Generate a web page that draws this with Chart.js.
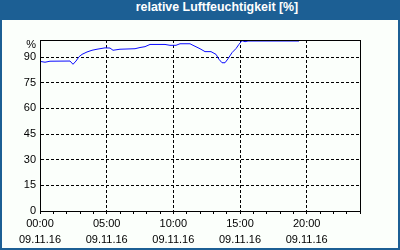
<!DOCTYPE html>
<html>
<head>
<meta charset="utf-8">
<script src="https://cdn.jsdelivr.net/npm/chart.js@4/dist/chart.umd.min.js"></script>
<style>
  html, body { margin: 0; padding: 0; background: #1c5f94; }
  #wrap { position: relative; width: 400px; height: 250px; background: #1c5f94; overflow: hidden; }
  #title { position: absolute; left: 0; top: 0; width: 400px; height: 20px; line-height: 20px;
           padding-left: 34px; box-sizing: border-box; text-align: center;
           font: bold 12.4px "Liberation Sans", Arial, sans-serif; color: #ffffff; }
  #box { position: absolute; left: 2px; top: 20px; width: 396px; height: 228px; background: #fbfffb; }
  canvas { display: block; }
</style>
</head>
<body>
<div id="wrap">
  <div id="title">relative Luftfeuchtigkeit [%]</div>
  <div id="box"><canvas id="c" width="396" height="228"></canvas></div>
</div>
<script>
// Hours since 00:00 on 09.11.16
const hours = [0, 0.375, 0.75, 2.25, 2.475, 2.7, 2.925, 3.15, 3.525, 3.9, 4.275, 4.875, 5.25, 5.475, 6.0, 7.125, 7.5, 7.875, 8.25, 9.375, 9.75, 10.2, 10.5, 11.25, 11.475, 12.0, 12.375, 12.825, 13.2, 13.425, 13.65, 13.875, 14.1, 14.4, 14.7, 14.925, 15.15, 15.375, 15.6, 19.425];
// relative humidity [%]
const humidity = [87.5, 87.0, 87.6, 87.7, 85.8, 87.7, 90.2, 91.6, 93.0, 94.0, 94.6, 95.4, 95.3, 94.0, 94.6, 94.9, 95.6, 96.1, 97.4, 97.4, 96.9, 96.9, 97.8, 97.8, 96.9, 94.9, 93.2, 93.2, 91.6, 88.7, 86.7, 86.7, 89.0, 92.6, 95.0, 97.5, 99.6, 99.0, 99.4, 99.4];
const yTicks = [0, 15, 30, 45, 60, 75, 90, 100];
const yUnitLabel = '%';
const xLabelHours = [0, 5, 10, 15, 20];
const xTimeLabels = ['00:00', '05:00', '10:00', '15:00', '20:00'];
const xDateLabel = '09.11.16';

const frame = {
  id: 'frame',
  afterDraw(chart) {
    const {ctx, chartArea: a} = chart;
    ctx.save();
    ctx.strokeStyle = '#000';
    ctx.lineWidth = 1;
    ctx.strokeRect(Math.round(a.left) + 0.5, Math.round(a.top) + 0.5,
                   Math.round(a.right - a.left), Math.round(a.bottom - a.top));
    ctx.restore();
  }
};

const font = {family: '"Liberation Sans", Arial, sans-serif', size: 11};

new Chart(document.getElementById('c'), {
  type: 'line',
  data: {
    datasets: [{
      data: hours.map((h, i) => ({x: h, y: humidity[i]})),
      borderColor: '#0a0aff',
      borderWidth: 1,
      pointRadius: 0,
      tension: 0,
      fill: false
    }]
  },
  options: {
    responsive: false,
    animation: false,
    devicePixelRatio: 1,
    layout: {padding: {top: 20, right: 38, left: 0, bottom: 0}},
    plugins: {legend: {display: false}, tooltip: {enabled: false}, title: {display: false}},
    scales: {
      x: {
        type: 'linear',
        min: 0, max: 24,
        afterBuildTicks(s) { const t = []; for (let h = 0; h <= 24; h++) t.push({value: h}); s.ticks = t; },
        afterFit(s) { s.height = 37; },
        ticks: {
          autoSkip: false,
          maxRotation: 0,
          padding: 2,
          color: '#000',
          font: Object.assign({lineHeight: 16 / 11}, font),
          callback(v) {
            const i = xLabelHours.indexOf(v);
            return i >= 0 ? [xTimeLabels[i], xDateLabel] : '';
          }
        },
        grid: {
          drawTicks: true,
          tickLength: 3,
          tickColor: '#000',
          color(ctx) { return (ctx.tick && ctx.tick.value % 5 === 0 && ctx.tick.value > 0) ? '#000' : 'rgba(0,0,0,0)'; },
          lineWidth: 1
        },
        border: {display: true, color: '#000', width: 1, dash: [3, 2]}
      },
      y: {
        min: 0, max: 100,
        afterBuildTicks(s) { s.ticks = yTicks.map(v => ({value: v})); },
        afterFit(s) { s.width = 38; },
        ticks: {
          padding: 4,
          color: '#000',
          font: Object.assign({lineHeight: 10 / 11}, font),
          callback(v) { return v === 100 ? ['', yUnitLabel] : String(v); }
        },
        grid: {
          drawTicks: false,
          color(ctx) { return (ctx.tick && ctx.tick.value > 0 && ctx.tick.value < 100) ? '#000' : 'rgba(0,0,0,0)'; },
          lineWidth: 1
        },
        border: {display: true, color: '#000', width: 1, dash: [3, 2]}
      }
    }
  },
  plugins: [frame]
});
</script>
</body>
</html>
